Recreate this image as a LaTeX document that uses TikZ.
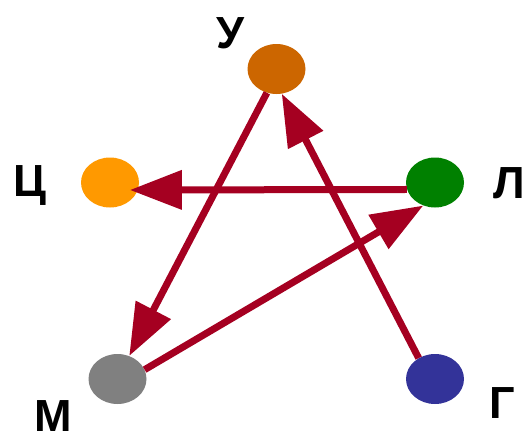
\documentclass[tikz,border=0pt]{standalone}
\usepackage{fontspec}
\setmainfont{Liberation Sans}
\usetikzlibrary{shapes.geometric,arrows.meta}
\definecolor{colU}{HTML}{CC6600}
\definecolor{colC}{HTML}{FF9900}
\definecolor{colL}{HTML}{008000}
\definecolor{colM}{HTML}{808080}
\definecolor{colG}{HTML}{333399}
\definecolor{arrowred}{HTML}{A50021}
\tikzset{
  dot/.style={ellipse, draw=none, inner sep=0pt, minimum width=58pt, minimum height=50pt},
  letter/.style={font=\fontsize{45}{45}\selectfont\bfseries, inner sep=0pt, anchor=base},
  link/.style={draw=arrowred, line width=7pt, -{Triangle[length=52pt,width=38pt]}}
}
\begin{document}
\begin{tikzpicture}[x=1pt,y=-1pt]
\useasboundingbox (0,0) rectangle (522,434);
\node[dot, fill=colU] (U) at (276.5,69) {};
\node[dot, fill=colC] (C) at (110,182.5) {};
\node[dot, fill=colL] (L) at (435,182.5) {};
\node[dot, fill=colM] (M) at (117.5,379) {};
\node[dot, fill=colG] (G) at (435,379) {};
\node[letter] (lU) at (230,48) {У};
\node[letter] (lC) at (29.5,196) {Ц};
\node[letter] (lL) at (509,198) {Л};
\node[letter] (lM) at (53,431) {М};
\node[letter] (lG) at (502,418) {Г};

\path[link] (U.248) -- (M.63);
\path[link, shorten >=-8pt] (L.194.5) -- (C.345);
\path[link] (M.19) -- (L.243);
\path[link] (G.128) -- (U.282);
\end{tikzpicture}
\end{document}
